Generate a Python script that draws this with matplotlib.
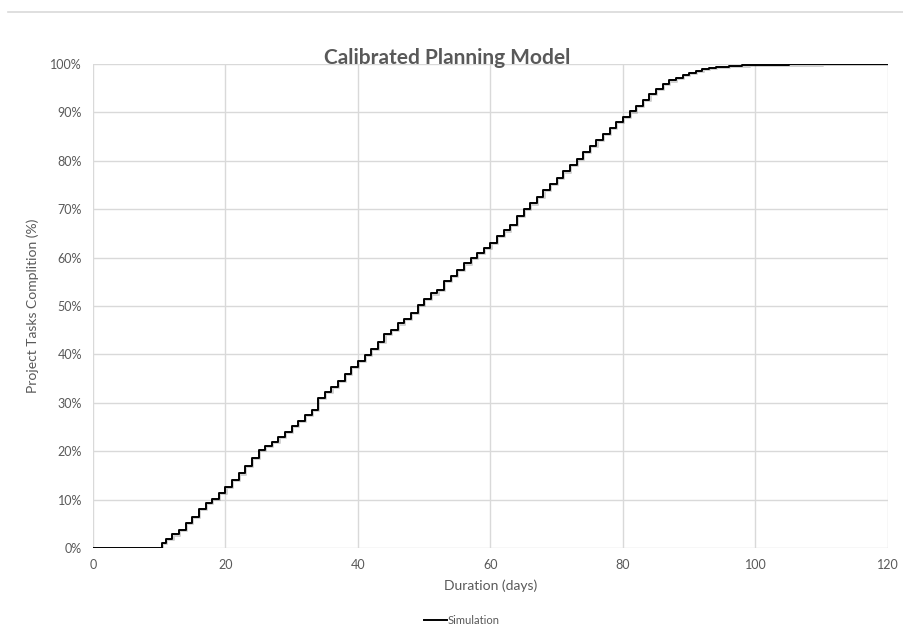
import matplotlib
matplotlib.use("Agg")
import matplotlib.pyplot as plt
import matplotlib.patheffects as pe
from matplotlib.ticker import FuncFormatter

days = [0, 10.4, 11, 12, 13, 14, 15, 16, 17, 18, 19, 20, 21, 22, 23, 24, 25, 26, 27, 28, 29,
        30, 31, 32, 33, 34, 35, 36, 37, 38, 39, 40, 41, 42, 43, 44, 45, 46, 47, 48, 49,
        50, 51, 52, 53, 54, 55, 56, 57, 58, 59, 60, 61, 62, 63, 64, 65, 66, 67, 68, 69,
        70, 71, 72, 73, 74, 75, 76, 77, 78, 79, 80, 81, 82, 83, 84, 85, 86, 87, 88, 89,
        90, 91, 92, 93, 94, 95, 96, 97, 98, 99, 100, 102, 105, 110, 120]
completion = [0, 1.0, 1.8, 2.8, 3.8, 5.2, 6.5, 8.0, 9.4, 10.2, 11.3, 12.6, 14.0, 15.4, 17.0, 18.6,
              20.2, 21.0, 22.0, 23.0, 24.0, 25.3, 26.3, 27.4, 28.6, 31.0, 32.3, 33.2, 34.6, 36.0,
              37.4, 38.6, 39.8, 41.2, 42.6, 44.2, 45.0, 46.4, 47.4, 48.6, 50.2, 51.4, 52.6, 53.4,
              55.2, 56.2, 57.4, 58.8, 60.0, 61.0, 62.0, 63.0, 64.4, 65.6, 66.8, 68.6, 70.0, 71.2,
              72.6, 74.0, 75.2, 76.4, 77.8, 79.2, 80.4, 81.8, 83.0, 84.4, 85.6, 86.8, 88.0, 89.0,
              90.2, 91.4, 92.6, 93.8, 94.8, 95.8, 96.6, 97.2, 97.8, 98.2, 98.6, 98.9, 99.1, 99.3,
              99.45, 99.55, 99.65, 99.7, 99.75, 99.8, 99.85, 99.9, 100, 100]

x_ticks = [0, 20, 40, 60, 80, 100, 120]
y_ticks = [0, 10, 20, 30, 40, 50, 60, 70, 80, 90, 100]

FONT = ["Lato", "DejaVu Sans"]
GRAY = "#595959"
GRID = "#d9d9d9"

fig = plt.figure(figsize=(9.04, 6.33), dpi=100)
ax = fig.add_axes([93/904, 1-548/633, (888-93)/904, (548-64)/633])

ax.plot(days, completion, drawstyle="steps-post", color="black", lw=1.4,
        label="Simulation",
        path_effects=[pe.SimpleLineShadow(offset=(0.8, -0.8), alpha=0.18, rho=0.5),
                      pe.Normal()], zorder=3)

ax.set_xlim(0, 120)
ax.set_ylim(0, 100)
ax.set_xticks(x_ticks)
ax.set_yticks(y_ticks)
ax.yaxis.set_major_formatter(FuncFormatter(lambda v, p: f"{int(v)}%"))
ax.grid(True, color=GRID, lw=1.0, zorder=0)
for s in ax.spines.values():
    s.set_visible(False)
ax.tick_params(length=0, labelsize=9, labelcolor=GRAY, pad=8)
for lab in ax.get_xticklabels() + ax.get_yticklabels():
    lab.set_family(FONT)

ax.set_xlabel("Duration (days)", fontsize=10, color=GRAY, family=FONT, labelpad=6)
ax.set_ylabel("Project Tasks Complition (%)", fontsize=10, color=GRAY, family=FONT, labelpad=8)

fig.text(447/904, 1-58/633, "Calibrated Planning Model", ha="center", va="center",
         fontsize=15, fontweight="bold", color=GRAY, family=FONT)

fig.add_artist(plt.Line2D([8/904, 1], [1-12/633, 1-12/633], color=GRID, lw=1.2))

leg = fig.legend(loc="center", bbox_to_anchor=(462/904, 1-620/633), frameon=False,
                 prop={"family": FONT, "size": 8}, handlelength=2.0, handletextpad=0.1)
for t in leg.get_texts():
    t.set_color(GRAY)
for h in leg.legend_handles:
    h.set_path_effects([])
    h.set_linewidth(1.4)

fig.savefig("out.png", dpi=100)
